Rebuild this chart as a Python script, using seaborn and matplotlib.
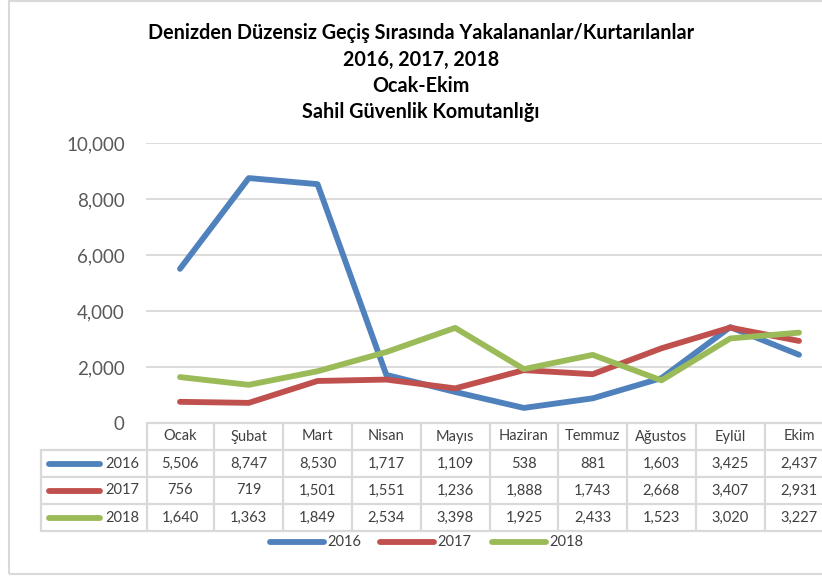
import matplotlib
matplotlib.use("Agg")
import matplotlib.pyplot as plt
import seaborn as sns
import pandas as pd
from matplotlib.lines import Line2D
from matplotlib.patches import Rectangle

months = ["Ocak", "Şubat", "Mart", "Nisan", "Mayıs", "Haziran", "Temmuz", "Ağustos", "Eylül", "Ekim"]
years = ["2016", "2017", "2018"]
v2016 = [5506, 8747, 8530, 1717, 1109, 538, 881, 1603, 3425, 2437]
v2017 = [756, 719, 1501, 1551, 1236, 1888, 1743, 2668, 3407, 2931]
v2018 = [1640, 1363, 1849, 2534, 3398, 1925, 2433, 1523, 3020, 3227]
series = {"2016": v2016, "2017": v2017, "2018": v2018}
colors = {"2016": "#4F81BD", "2017": "#C0504D", "2018": "#9BBB59"}
yticks = [0, 2000, 4000, 6000, 8000, 10000]
title_lines = ["Denizden Düzensiz Geçiş Sırasında Yakalananlar/Kurtarılanlar",
               "2016, 2017, 2018", "Ocak-Ekim", "Sahil Güvenlik Komutanlığı"]

sns.set_theme(style="white")
plt.rcParams['font.family'] = ['Lato', 'DejaVu Sans']

rows = []
for y in years:
    for i, m in enumerate(months):
        rows.append({"idx": i, "month": m, "year": y, "value": series[y][i]})
df = pd.DataFrame(rows)

W, H = 822, 578
fig = plt.figure(figsize=(W / 100, H / 100), dpi=100)

def fx(x):
    return x / W

def fy(y):
    return 1 - y / H

# axes: x 145.6 -> 833.4 px, y 143 -> 423 px
ax = fig.add_axes([fx(145.6), fy(423), fx(833.4) - fx(145.6), fy(143) - fy(423)])
ax.set_xlim(-0.5, 9.5)
ax.set_ylim(0, 10000)
ax.set_clip_on(False)
for s in ax.spines.values():
    s.set_visible(False)
ax.set_yticks(yticks)
ax.set_yticklabels([f"{t:,}" for t in yticks], fontsize=13.5, color="#595959")
ax.tick_params(axis="y", length=0, pad=15)
ax.set_xticks([])
ax.grid(False)
for t in yticks[1:]:
    ax.axhline(t, color="#D9D9D9", lw=1.3, zorder=0)

sns.lineplot(data=df, x="idx", y="value", hue="year", palette=colors, ax=ax,
             lw=4.2, legend=False, sort=False, solid_capstyle="round")
ax.set_xlabel("")
ax.set_ylabel("")

# title
for k, line in enumerate(title_lines):
    fig.text(fx(421), fy(33 + k * 26.5), line, ha="center", va="center",
             fontsize=14.2, fontweight="bold", color="#000000")

# table
grid_c = "#D9D9D9"
txt_c = "#404040"
row_b = [423, 450, 477, 504, 531]
right_px = 840

def col_px(i):
    return 145.6 + (833.4 - 145.6) * (i + 0.5) / 10.0

def hline(y, x0, x1):
    fig.add_artist(Line2D([fx(x0), fx(x1)], [fy(y), fy(y)], color=grid_c, lw=1.6))

def vline(x, y0, y1):
    fig.add_artist(Line2D([fx(x), fx(x)], [fy(y0), fy(y1)], color=grid_c, lw=1.6))

hline(row_b[0], 147, right_px)
for y in row_b[1:]:
    hline(y, 41, right_px)
vline(41, row_b[1], row_b[-1])
vline(147, row_b[0], row_b[-1])
for i in range(1, 10):
    vline(col_px(i - 0.5), row_b[0], row_b[-1])

for i, m in enumerate(months):
    fig.text(fx(col_px(i)), fy((row_b[0] + row_b[1]) / 2), m, ha="center", va="center",
             fontsize=10.5, color=txt_c)
for r, y in enumerate(years):
    yc = (row_b[r + 1] + row_b[r + 2]) / 2
    fig.add_artist(Line2D([fx(49), fx(100)], [fy(yc), fy(yc)], color=colors[y], lw=4.2,
                          solid_capstyle="round"))
    fig.text(fx(139), fy(yc), y, ha="right", va="center", fontsize=10.5, color=txt_c)
    for i, v in enumerate(series[y]):
        fig.text(fx(col_px(i)), fy(yc), f"{v:,}", ha="center", va="center",
                 fontsize=10.5, color=txt_c)

# bottom legend
leg_y = 542
for x0, y in zip([270, 380, 492], years):
    fig.add_artist(Line2D([fx(x0), fx(x0 + 54)], [fy(leg_y), fy(leg_y)], color=colors[y],
                          lw=4.2, solid_capstyle="round"))
    fig.text(fx(x0 + 57), fy(leg_y), y, ha="left", va="center", fontsize=10.5, color=txt_c)

# outer border
fig.add_artist(Rectangle((fx(9), fy(574)), fx(830) - fx(9), fy(1) - fy(574),
                         fill=False, edgecolor="#D9D9D9", lw=1.5))

fig.savefig("out.png", dpi=100)
